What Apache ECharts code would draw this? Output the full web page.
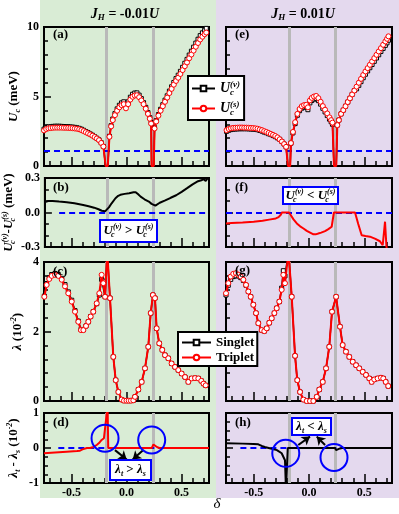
<!DOCTYPE html>
<html><head><meta charset="utf-8">
<script src="https://cdn.jsdelivr.net/npm/echarts@6/dist/echarts.min.js"></script>
<style>html,body{margin:0;padding:0;background:#fff}#c{width:399px;height:514px}</style>
</head><body><div id="c"></div>
<script>
// ---------------- DATA ----------------
const xTickMinor = [-0.7,-0.6,-0.5,-0.4,-0.3,-0.2,-0.1,0,0.1,0.2,0.3,0.4,0.5,0.6,0.7];
const xTickMajor = [-0.5,0,0.5];
const transitions = [-0.18, 0.236];

// (a) Uc, J_H = -0.01U
const deltaA = [-0.75,-0.73,-0.71,-0.69,-0.67,-0.65,-0.63,-0.61,-0.59,-0.57,-0.55,-0.53,-0.51,-0.49,-0.47,-0.45,-0.43,-0.41,-0.39,-0.37,-0.35,-0.33,-0.31,-0.29,-0.27,-0.25,-0.23,-0.21,-0.19,
 -0.17,-0.155,-0.14,-0.125,-0.105,-0.085,-0.065,-0.045,-0.025,-0.005,0.015,0.035,0.055,0.075,0.095,0.115,0.135,0.155,0.175,0.195,0.212,0.224,0.228,
 0.248,0.255,0.27,0.29,0.31,0.33,0.35,0.37,0.39,0.41,0.43,0.45,0.47,0.49,0.51,0.53,0.55,0.57,0.59,0.61,0.63,0.65,0.67,0.69,0.71,0.725];
const UsA = [2.56,2.66,2.71,2.73,2.75,2.76,2.76,2.76,2.76,2.75,2.75,2.74,2.73,2.72,2.70,2.68,2.64,2.58,2.51,2.43,2.35,2.27,2.18,2.08,1.98,1.86,1.66,1.40,0,
 0,2.1,2.85,3.3,3.66,3.98,4.22,4.38,4.45,4.15,4.45,4.78,4.98,5.07,5.09,4.95,4.72,4.45,4.12,3.75,3.4,3.05,0,
 0,2.7,3.2,3.62,3.98,4.3,4.62,4.92,5.25,5.55,5.85,6.12,6.35,6.62,6.9,7.18,7.45,7.75,8.02,8.3,8.58,8.85,9.1,9.3,9.48,9.6];
const UvA = [2.65,2.76,2.81,2.83,2.85,2.86,2.86,2.86,2.85,2.84,2.84,2.83,2.81,2.8,2.78,2.75,2.71,2.65,2.57,2.48,2.4,2.31,2.22,2.11,2.0,1.88,1.68,1.41,0,
 0,2.14,2.9,3.38,3.77,4.11,4.37,4.54,4.62,4.32,4.62,4.95,5.16,5.25,5.26,5.1,4.85,4.56,4.22,3.84,3.48,3.13,0,
 0,2.76,3.26,3.7,4.08,4.41,4.74,5.05,5.39,5.7,6.01,6.29,6.53,6.81,7.1,7.39,7.67,7.98,8.26,8.55,8.84,9.12,9.38,9.58,9.77,9.9];

// (e) Uc, J_H = 0.01U
const deltaE = [-0.745,-0.725,-0.705,-0.685,-0.665,-0.645,-0.625,-0.605,-0.585,-0.565,-0.545,-0.525,-0.505,-0.485,-0.465,-0.445,-0.425,-0.405,-0.385,-0.365,-0.345,-0.325,-0.305,-0.285,-0.265,-0.245,-0.225,-0.207,-0.19,
 -0.17,-0.163,-0.145,-0.125,-0.105,-0.085,-0.065,-0.045,-0.025,-0.01,0.008,0.025,0.045,0.065,0.085,0.105,0.125,0.145,0.165,0.185,0.2,0.212,0.226,
 0.246,0.256,0.27,0.29,0.31,0.33,0.35,0.37,0.39,0.41,0.43,0.45,0.47,0.49,0.51,0.53,0.55,0.57,0.59,0.61,0.63,0.65,0.67,0.69,0.705,0.718];
const UsE = [2.58,2.66,2.71,2.74,2.75,2.76,2.77,2.77,2.76,2.76,2.75,2.74,2.73,2.71,2.68,2.63,2.58,2.51,2.45,2.38,2.31,2.24,2.16,2.06,1.92,1.76,1.58,1.38,0,
 0,1.65,2.45,3.15,3.75,4.1,4.3,4.38,4.4,4.22,4.72,4.9,5.0,5.04,4.88,4.62,4.31,4.05,3.78,3.5,3.3,3.12,0,
 0,2.94,3.3,3.75,4.02,4.3,4.6,4.87,5.15,5.43,5.71,5.99,6.27,6.55,6.8,7.04,7.28,7.52,7.76,8.0,8.24,8.48,8.72,8.96,9.15,9.33];
const UvE = [2.49,2.57,2.62,2.65,2.66,2.67,2.68,2.68,2.68,2.68,2.67,2.66,2.65,2.64,2.61,2.56,2.51,2.44,2.39,2.32,2.26,2.19,2.11,2.02,1.92,1.76,1.58,1.38,0,
 0,1.64,2.38,3.05,3.65,3.98,4.16,4.24,4.24,4.05,4.54,4.71,4.81,4.85,4.7,4.45,4.15,3.89,3.63,3.37,3.18,3.0,0,
 0,2.94,3.3,3.75,4.02,4.3,4.6,4.87,5.15,5.43,5.55,5.8,6.07,6.35,6.6,6.84,7.07,7.3,7.53,7.77,8.0,8.24,8.46,8.68,8.86,9.05];

// (b) Uc(v) - Uc(s), J_H = -0.01U
const deltaB = [-0.75,-0.72,-0.68,-0.62,-0.55,-0.48,-0.4,-0.35,-0.3,-0.26,-0.23,-0.2,-0.185,-0.165,-0.14,-0.105,-0.08,-0.06,-0.02,0.02,0.06,0.08,0.1,0.125,0.16,0.2,0.225,0.24,0.26,0.3,0.35,0.4,0.45,0.5,0.55,0.6,0.65,0.68,0.7,0.72,0.74,0.75];
const diffB = [0.09,0.10,0.10,0.095,0.09,0.08,0.066,0.055,0.042,0.028,0.015,0.01,0.02,0.045,0.08,0.124,0.145,0.154,0.162,0.168,0.176,0.177,0.16,0.138,0.115,0.095,0.075,0.06,0.06,0.085,0.105,0.128,0.15,0.18,0.212,0.245,0.272,0.28,0.29,0.275,0.3,0.31];

// (f) Uc(v) - Uc(s), J_H = 0.01U
const deltaF = [-0.75,-0.7,-0.6,-0.5,-0.42,-0.36,-0.3,-0.275,-0.255,-0.245,-0.18,-0.165,-0.14,-0.11,-0.08,-0.05,-0.02,0.01,0.04,0.06,0.084,0.11,0.145,0.175,0.205,0.215,0.225,0.416,0.445,0.476,0.51,0.551,0.6,0.641,0.666,0.687,0.7,0.72];
const diffF = [-0.095,-0.092,-0.088,-0.08,-0.072,-0.062,-0.052,-0.04,-0.02,0,0,-0.01,-0.06,-0.095,-0.12,-0.139,-0.16,-0.175,-0.19,-0.19,-0.183,-0.175,-0.162,-0.145,-0.124,-0.115,0,0,-0.1,-0.198,-0.205,-0.21,-0.23,-0.25,-0.285,-0.08,-0.3,-0.36];

// (c) lambda, J_H = -0.01U
const deltaC = [-0.747,-0.726,-0.702,-0.68,-0.65,-0.62,-0.589,-0.559,-0.529,-0.498,-0.468,-0.438,-0.414,-0.392,-0.368,-0.347,-0.326,-0.302,-0.271,-0.247,-0.226,-0.211,-0.195,-0.175,-0.15,-0.12,-0.098,-0.074,-0.044,-0.023,0.0,0.02,0.04,0.062,0.077,0.108,0.138,0.168,0.198,0.22,0.24,0.259,0.274,0.298,0.325,0.35,0.38,0.41,0.441,0.471,0.501,0.532,0.562,0.592,0.623,0.653,0.68,0.70,0.72];
const tripC = [3.0,3.34,3.51,3.6,3.63,3.6,3.49,3.3,3.1,2.86,2.57,2.28,2.04,2.04,2.16,2.28,2.43,2.57,2.81,3.1,3.63,3.39,3.0,4.3,2.96,1.27,0.6,0.26,0.04,0.01,0.01,0.01,0.01,0.02,0.12,0.33,0.55,0.94,1.56,2.53,3.05,2.96,2.09,1.66,1.47,1.32,1.23,1.08,0.98,0.89,0.79,0.69,0.55,0.65,0.66,0.65,0.58,0.5,0.45];
const singC = [3.02,3.38,3.55,3.64,3.67,3.64,3.53,3.35,3.14,2.9,2.6,2.3,2.06,2.05,2.16,2.28,2.43,2.57,2.8,3.05,3.5,3.45,3.0,4.3,2.96,1.27,0.6,0.26,0.04,0.01,0.01,0.01,0.01,0.02,0.12,0.33,0.55,0.94,1.56,2.53,3.05,2.96,2.09,1.66,1.47,1.32,1.23,1.08,0.98,0.89,0.79,0.69,0.55,0.65,0.66,0.65,0.58,0.5,0.45];

// (g) lambda, J_H = 0.01U
const deltaG = [-0.75,-0.729,-0.707,-0.684,-0.66,-0.638,-0.617,-0.593,-0.569,-0.548,-0.527,-0.503,-0.479,-0.458,-0.428,-0.404,-0.382,-0.359,-0.337,-0.313,-0.292,-0.268,-0.247,-0.232,-0.217,-0.185,-0.156,-0.126,-0.106,-0.081,-0.051,-0.021,0.009,0.039,0.07,0.093,0.124,0.154,0.183,0.208,0.245,0.28,0.304,0.334,0.364,0.395,0.425,0.454,0.485,0.515,0.545,0.566,0.59,0.62,0.65,0.671,0.693,0.716];
const tripG = [3.1,3.39,3.58,3.66,3.68,3.63,3.58,3.49,3.34,3.15,3.0,2.77,2.53,2.24,2.04,2.01,2.09,2.25,2.38,2.53,2.67,2.86,3.2,3.63,3.39,4.3,3.0,1.3,0.6,0.26,0.04,0.0,0.0,0.0,0.12,0.33,0.55,0.94,1.56,2.57,3.0,2.14,1.61,1.42,1.27,1.13,1.03,0.94,0.84,0.75,0.65,0.55,0.62,0.65,0.67,0.65,0.55,0.43];
const singG = [3.05,3.33,3.5,3.58,3.6,3.6,3.55,3.47,3.33,3.15,3.0,2.77,2.53,2.24,2.04,2.01,2.09,2.25,2.38,2.53,2.67,2.86,3.25,3.75,3.6,4.3,3.0,1.3,0.6,0.26,0.04,0.0,0.0,0.0,0.12,0.33,0.55,0.94,1.56,2.57,3.0,2.14,1.61,1.42,1.27,1.13,1.03,0.94,0.84,0.75,0.65,0.55,0.62,0.65,0.67,0.65,0.55,0.43];

// (d) lambda_t - lambda_s, J_H = -0.01U
const deltaD = [-0.75,-0.65,-0.544,-0.45,-0.423,-0.4,-0.385,-0.36,-0.33,-0.3,-0.271,-0.25,-0.241,-0.226,-0.205,-0.19,-0.172,-0.166,0.23,0.245,0.26,0.28,0.3,0.75];
const diffD = [-0.153,-0.13,-0.106,-0.085,-0.077,-0.04,-0.01,0,0,0.03,0.086,0.14,0.18,0.23,0.28,0.31,1.2,0,0,0.1,0.06,0.02,0,0];

// (h) lambda_t - lambda_s, J_H = 0.01U
const deltaH = [-0.75,-0.6,-0.5,-0.458,-0.427,-0.4,-0.382,-0.337,-0.29,-0.247,-0.217,-0.208,-0.197,-0.192,0.235,0.245,0.26,0.28,0.3,0.75];
const diffH = [0.135,0.125,0.115,0.106,0.058,0.03,0.02,-0.02,-0.06,-0.15,-0.35,-1.2,-1.2,0,0,-0.06,-0.035,-0.012,0,0];

// annotations (data coords)
const circlesD = [[-0.195,0.28],[0.229,0.23]];
const arrowsD = [[[-0.105,-0.06],[0.002,-0.327]],[[0.153,-0.06],[0.056,-0.327]]];
const circlesH = [[-0.21,-0.153],[0.226,-0.27]];
const arrowsH = [[[-0.097,0.086],[0.009,0.326]],[[0.145,0.086],[0.07,0.326]]];

// ---------------- STYLE / LAYOUT ----------------
const SERIF = '"Liberation Serif","Times New Roman",serif';
const BLUE = '#0000ff';
const RED = '#ff0000';
const GRAY = '#b9b9b9';

function richSet(size, color) {
  const small = Math.round(size * 0.62);
  const base = {fontFamily: SERIF, fontWeight: 'bold', color: color, fontSize: size, lineHeight: size + 3};
  const sm = Object.assign({}, base, {fontSize: small, lineHeight: small});
  return {
    n: base,
    i: Object.assign({}, base, {fontStyle: 'italic'}),
    sb: Object.assign({}, sm, {fontStyle: 'italic', verticalAlign: 'bottom'}),
    sbz: Object.assign({}, sm, {fontStyle: 'italic', verticalAlign: 'bottom', width: 0}),
    sp: Object.assign({}, sm, {fontStyle: 'italic', verticalAlign: 'top'})
  };
}
const T_UV = '{i|U}{sbz|c}{sp|(v)}';
const T_US = '{i|U}{sbz|c}{sp|(s)}';

const colL = {left: 44, width: 165};
const colR = {left: 226, width: 166};
const rows = [{top: 27, height: 139}, {top: 178, height: 69}, {top: 262, height: 139}, {top: 413, height: 70}];
const grids = [];
[colL, colR].forEach(c => rows.forEach(r => grids.push({left: c.left, top: r.top, width: c.width, height: r.height,
  show: true, borderColor: '#000', borderWidth: 2, backgroundColor: 'transparent', containLabel: false})));

const yCfg = [
  {min: 0, max: 10, interval: 5, minor: 5, fmt: v => String(v), name: '{i|U}{sb|c}{n| (meV)}', gap: 22},
  {min: -0.3, max: 0.3, interval: 0.3, minor: 3, fmt: v => v.toFixed(1), name: T_UV + '{n|-}' + T_US + '{n| (meV)}', gap: 22},
  {min: 0, max: 4, interval: 2, minor: 5, fmt: v => String(v), name: '{i|λ}{n| (10}{sp|-2}{n|)}', gap: 18},
  {min: -1, max: 1, interval: 1, minor: 4, fmt: v => String(v), name: '{i|λ}{sb|t}{n| - }{i|λ}{sb|s}{n| (10}{sp|-2}{n|)}', gap: 22}
];

const xAxes = [], yAxes = [];
for (let g = 0; g < 8; g++) {
  const row = g % 4, leftCol = g < 4, bottom = row === 3;
  xAxes.push({type: 'value', gridIndex: g, min: -0.75, max: 0.75, position: 'bottom',
    axisLine: {show: true, onZero: false, lineStyle: {color: '#000', width: 2}},
    axisTick: {show: true, inside: true, length: 5, customValues: xTickMinor, lineStyle: {color: '#000', width: 1.5}},
    axisLabel: {show: bottom, customValues: xTickMajor, margin: 4, formatter: v => v.toFixed(1),
      fontFamily: SERIF, fontWeight: 'bold', fontSize: 12, color: '#000'},
    splitLine: {show: false}});
  const c = yCfg[row];
  yAxes.push({type: 'value', gridIndex: g, min: c.min, max: c.max, interval: c.interval, position: 'left',
    axisLine: {show: true, onZero: false, lineStyle: {color: '#000', width: 2}},
    axisTick: {show: true, inside: true, length: 7, lineStyle: {color: '#000', width: 1.5}},
    minorTick: {show: true, splitNumber: c.minor, length: 4, lineStyle: {color: '#000', width: 1.5}},
    axisLabel: {show: leftCol, margin: 5, formatter: c.fmt, fontFamily: SERIF, fontWeight: 'bold', fontSize: 12, color: '#000'},
    splitLine: {show: false}, minorSplitLine: {show: false},
    name: leftCol ? c.name : '', nameLocation: 'middle', nameRotate: 90, nameGap: c.gap,
    nameTextStyle: {rich: richSet(13, '#000')}});
}
for (let g = 0; g < 8; g++) {
  xAxes.push({type: 'value', gridIndex: g, min: -0.75, max: 0.75, position: 'bottom',
    axisLine: {show: false, onZero: false}, axisLabel: {show: false, customValues: xTickMajor},
    axisTick: {show: true, inside: true, length: 9, customValues: xTickMajor, lineStyle: {color: '#000', width: 1.5}},
    splitLine: {show: false}});
}

function pts(xs, ys, dropZero) {
  return xs.map((x, i) => dropZero && ys[i] === 0 ? {value: [x, ys[i]], symbol: 'none'} : [x, ys[i]]);
}
function redMarked(name, g, xs, ys, dropZero, size) {
  return {name, type: 'line', xAxisIndex: g, yAxisIndex: g, data: pts(xs, ys, dropZero), z: 3,
    symbol: 'circle', symbolSize: size, showSymbol: true, clip: true,
    itemStyle: {color: '#fff', borderColor: RED, borderWidth: 1}, lineStyle: {color: RED, width: 2},
    emphasis: {disabled: true}, animation: false};
}
function blackMarked(name, g, xs, ys, dropZero) {
  return {name, type: 'line', xAxisIndex: g, yAxisIndex: g, data: pts(xs, ys, dropZero), z: 2,
    symbol: 'rect', symbolSize: 4, showSymbol: true, clip: true,
    itemStyle: {color: '#fff', borderColor: '#000', borderWidth: 1}, lineStyle: {color: '#000', width: 1.5},
    emphasis: {disabled: true}, animation: false};
}
function plain(name, g, xs, ys, color) {
  return {name, type: 'line', xAxisIndex: g, yAxisIndex: g, data: pts(xs, ys, false), z: 3,
    showSymbol: false, symbol: 'none', clip: true, lineStyle: {color, width: 2},
    emphasis: {disabled: true}, animation: false};
}
function bg(g, dash) {
  const data = transitions.map(x => ({xAxis: x, lineStyle: {color: GRAY, width: 3, type: 'solid'}}));
  if (dash) data.push([{coord: [dash[0], dash[2]], lineStyle: {color: BLUE, width: 2, type: [6, 4]}}, {coord: [dash[1], dash[2]]}]);
  return {name: 'bg' + g, type: 'line', xAxisIndex: g, yAxisIndex: g, data: [], silent: true, animation: false,
    markLine: {silent: true, symbol: ['none', 'none'], label: {show: false}, z: 1, animation: false, data}};
}
function anno(g, circles, arrows) {
  return {name: 'anno' + g, type: 'line', xAxisIndex: g, yAxisIndex: g, data: [], silent: true, animation: false,
    markPoint: {silent: true, symbol: 'circle', symbolSize: 27, label: {show: false}, animation: false, z: 6,
      itemStyle: {color: 'rgba(0,0,0,0)', borderColor: BLUE, borderWidth: 2},
      data: circles.map(c => ({coord: c}))},
    markLine: {silent: true, symbol: ['none', 'arrow'], symbolSize: 8, label: {show: false}, z: 6, animation: false,
      lineStyle: {color: '#000', width: 2, type: 'solid'},
      data: arrows.map(a => [{coord: a[0]}, {coord: a[1]}])}};
}

const series = [
  bg(0, [-0.75, 0.75, 1.1]), bg(1, [-0.62, 0.75, 0]), bg(2, null), bg(3, [-0.62, 0.75, 0]),
  bg(4, [-0.75, 0.75, 1.1]), bg(5, [-0.75, 0.75, 0]), bg(6, null), bg(7, [-0.62, 0.75, 0]),
  blackMarked('Uv', 0, deltaA, UvA, true), redMarked('Us', 0, deltaA, UsA, true, 5),
  blackMarked('Uv', 4, deltaE, UvE, true), redMarked('Us', 4, deltaE, UsE, true, 5),
  plain('diffB', 1, deltaB, diffB, '#000'), plain('diffF', 5, deltaF, diffF, RED),
  blackMarked('Singlet', 2, deltaC, singC, false), redMarked('Triplet', 2, deltaC, tripC, false, 5),
  blackMarked('Singlet', 6, deltaG, singG, false), redMarked('Triplet', 6, deltaG, tripG, false, 5),
  plain('diffD', 3, deltaD, diffD, RED), plain('diffH', 7, deltaH, diffH, '#000'),
  anno(3, circlesD, arrowsD), anno(7, circlesH, arrowsH)
];

function txt(x, y, text, rich, align, extra) {
  return Object.assign({type: 'text', x, y, z: 100, silent: true,
    style: {text, rich, align: align || 'left', verticalAlign: 'middle'}}, extra || {});
}
function box(cx, cy, w, h, text) {
  return {type: 'group', z: 100, silent: true, children: [
    {type: 'rect', z: 100, shape: {x: cx - w / 2, y: cy - h / 2, width: w, height: h},
      style: {fill: '#fff', stroke: BLUE, lineWidth: 2}},
    {type: 'text', z: 101, x: cx, y: cy, style: {text, rich: richSet(13, BLUE), align: 'center', verticalAlign: 'middle'}}
  ]};
}
const rk = richSet(14, '#000');
const rl = richSet(13, '#000');
const graphics = [
  {type: 'rect', z: -10, silent: true, shape: {x: 40, y: 0, width: 176, height: 498}, style: {fill: '#d9ecd5'}},
  {type: 'rect', z: -10, silent: true, shape: {x: 216, y: 0, width: 183, height: 498}, style: {fill: '#e4d9ee'}},
  txt(125, 14, '{i|J}{sb|H}{n| = -0.01}{i|U}', rk, 'center'),
  txt(303, 14, '{i|J}{sb|H}{n| = 0.01}{i|U}', rk, 'center'),
  txt(53, 35, '{n|(a)}', rl), txt(53, 188, '{n|(b)}', rl), txt(53, 272, '{n|(c)}', rl), txt(53, 423, '{n|(d)}', rl),
  txt(235, 35, '{n|(e)}', rl), txt(235, 188, '{n|(f)}', rl), txt(235, 271, '{n|(g)}', rl), txt(235, 423, '{n|(h)}', rl),
  {type: 'text', x: 217, y: 504, z: 100, silent: true,
    style: {text: 'δ', font: 'italic 15px ' + SERIF, fill: '#000', align: 'center', verticalAlign: 'middle'}},
  box(128.5, 231, 57, 22, T_UV + '{n| > }' + T_US),
  box(310.5, 195.5, 55, 17, T_UV + '{n| < }' + T_US),
  box(130.5, 470, 41, 20, '{i|λ}{sb|t}{n| > }{i|λ}{sb|s}'),
  box(311.5, 426.5, 39, 17, '{i|λ}{sb|t}{n| < }{i|λ}{sb|s}')
];

const option = {
  animation: false,
  backgroundColor: '#fff',
  grid: grids,
  xAxis: xAxes,
  yAxis: yAxes,
  legend: [
    {data: ['Uv', 'Us'], left: 188, top: 76, orient: 'vertical', itemWidth: 23, itemHeight: 7, itemGap: 3,
      padding: [4, 4, 3, 3], backgroundColor: '#fff', borderColor: '#000', borderWidth: 2, selectedMode: false, z: 10,
      formatter: n => n === 'Uv' ? T_UV : T_US, textStyle: {rich: richSet(14, '#000')}},
    {data: ['Singlet', 'Triplet'], left: 178, top: 332, orient: 'vertical', itemWidth: 29, itemHeight: 7, itemGap: 2,
      padding: [4, 3, 2, 3], backgroundColor: '#fff', borderColor: '#000', borderWidth: 2, selectedMode: false, z: 10,
      textStyle: {fontFamily: SERIF, fontWeight: 'bold', fontSize: 13, color: '#000'}}
  ],
  graphic: graphics,
  series
};
const chart = echarts.init(document.getElementById('c'), null, {renderer: 'canvas', width: 399, height: 514});
chart.setOption(option);
</script>
</body></html>
